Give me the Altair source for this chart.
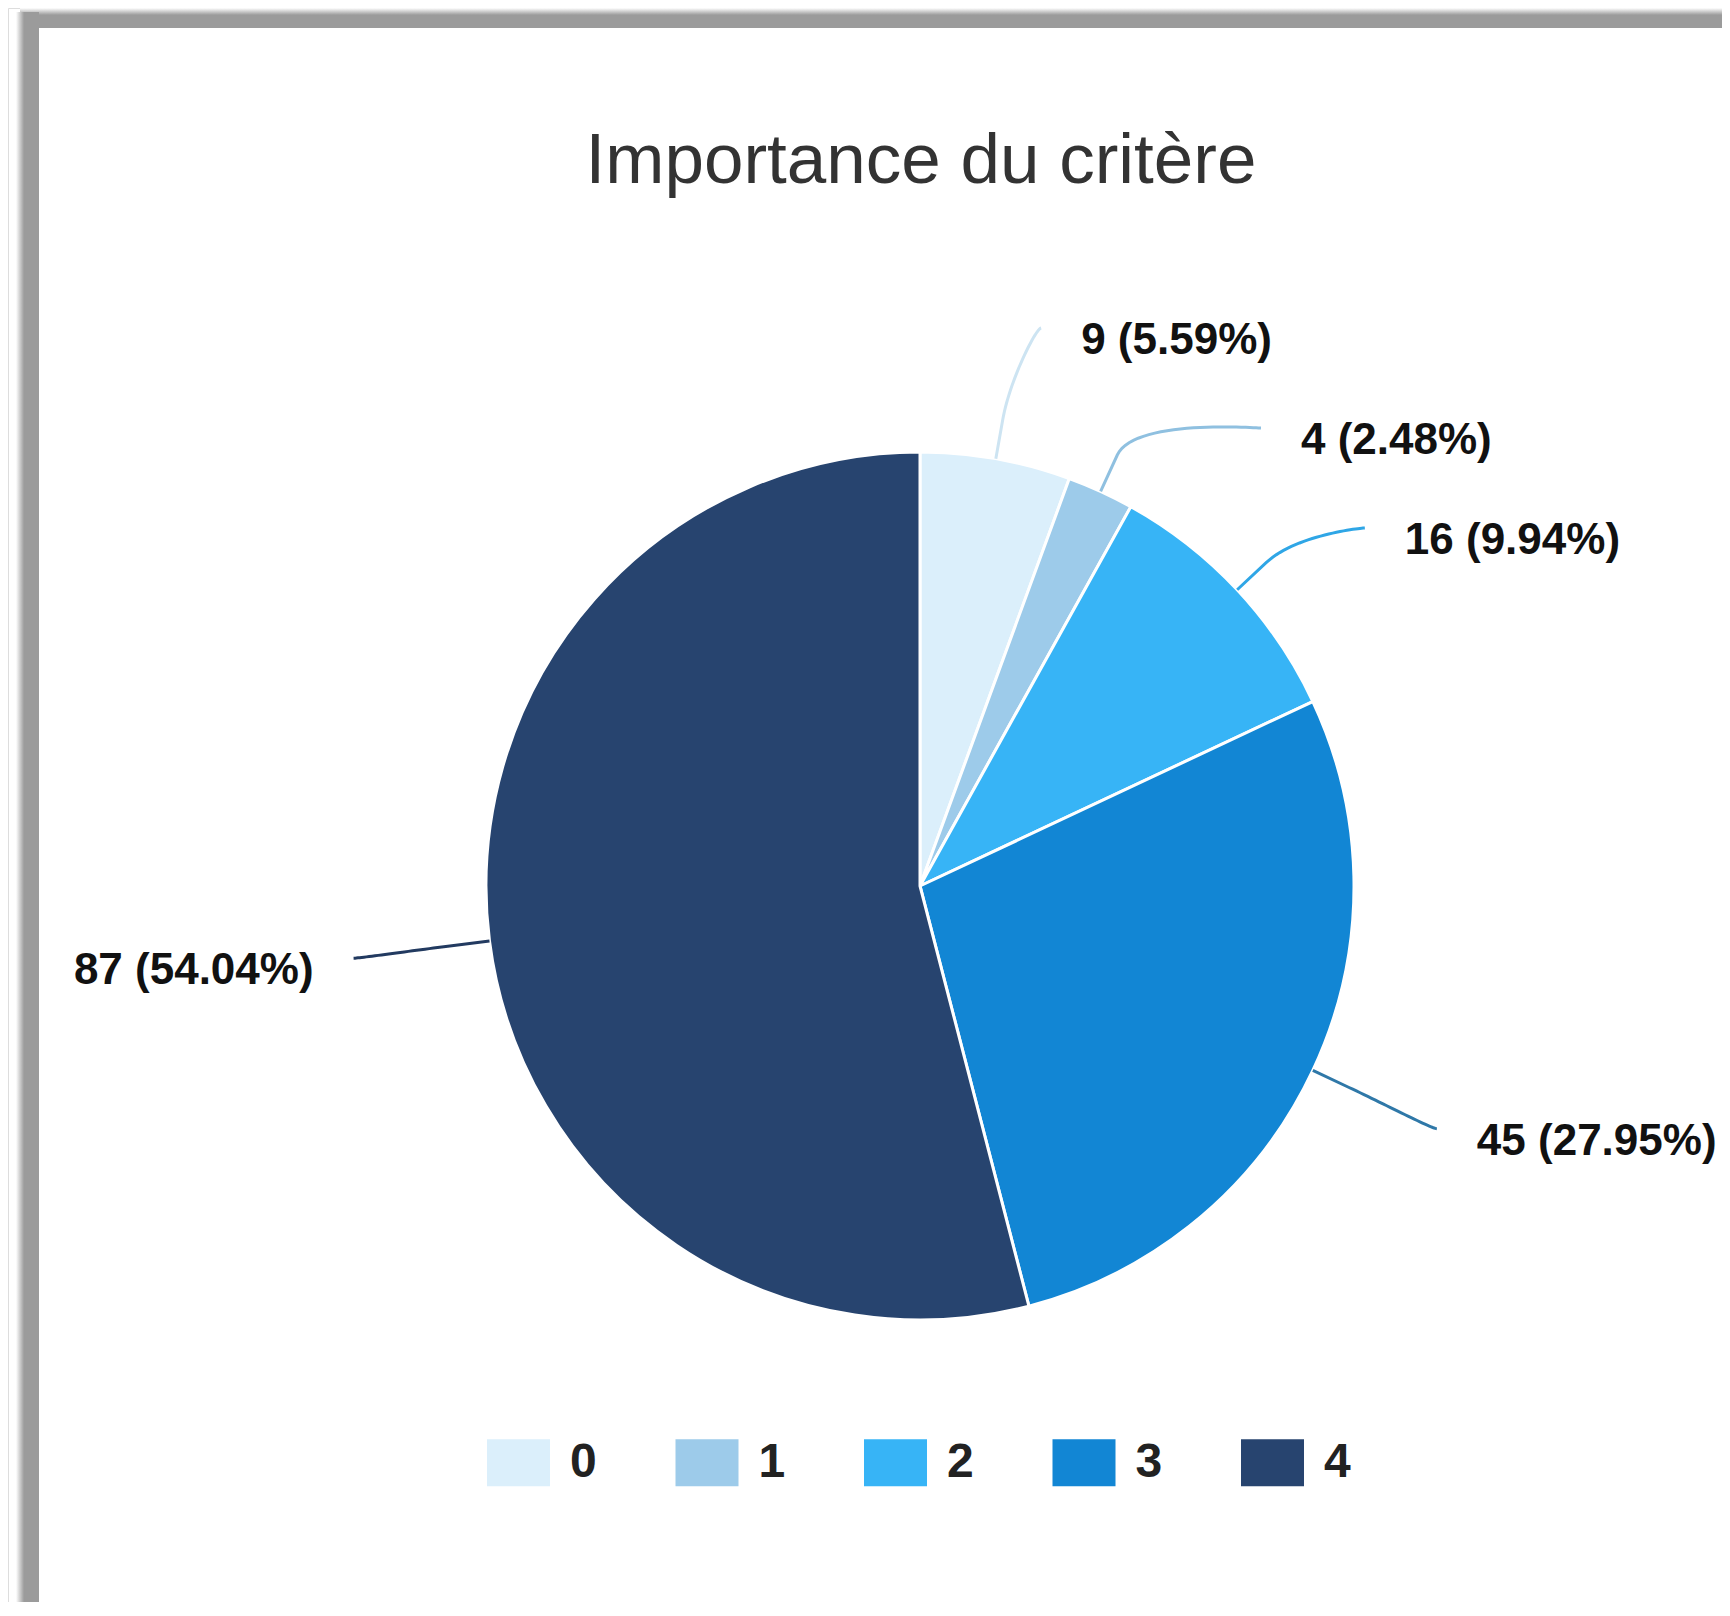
import math
import altair as alt
import pandas as pd

# ---------------- data ----------------
title_text = "Importance du critère"
categories = ["0", "1", "2", "3", "4"]
counts = [9, 4, 16, 45, 87]
colors = ["#dbeffb", "#9dcbea", "#37b4f6", "#1286d4", "#27446f"]
connector_colors = ["#cde4f2", "#8fc0e0", "#2fa6e6", "#2f78a8", "#223a60"]

# ---------------- layout (pixels) ----------------
W, H = 1714, 1594          # drawing area (page minus 8px margin, no scrollbars)
OFF = 8
CX, CY = 920 - OFF, 886 - OFF
R = 434                    # pie radius
LABEL_R = 571              # where connectors end
BREAK_R = R + 40
GAP = 40                   # connector end -> text
MIN_SPACING = 100          # vertical room per label
TOP_LIMIT = 328 - OFF      # labels are kept below this line
LABEL_DY = 13

total = sum(counts)
mids = []
acc = 0
for c in counts:
    mids.append((acc + c / 2) / total * 2 * math.pi)
    acc += c

# simple label anti-collision (push down), per side
ends = {}
for side in ("right", "left"):
    idx = [i for i, a in enumerate(mids) if (a < math.pi) == (side == "right")]
    nat = sorted(((CY - LABEL_R * math.cos(mids[i]), i) for i in idx))
    prev = None
    for y, i in nat:
        y = max(y, TOP_LIMIT)
        if prev is not None and y < prev + MIN_SPACING:
            y = prev + MIN_SPACING
        prev = y
        dy = max(-LABEL_R, min(LABEL_R, y - CY))
        dx = math.sqrt(LABEL_R ** 2 - dy ** 2)
        x = CX + dx if side == "right" else CX - dx
        ends[i] = (x, y, side)

label_rows, line_rows = [], []
for i, (cat, c) in enumerate(zip(categories, counts)):
    a = mids[i]
    lx, ly, side = ends[i]
    tx, ty = CX + R * math.sin(a), CY - R * math.cos(a)
    bx, by = CX + BREAK_R * math.sin(a), CY - BREAK_R * math.cos(a)
    c1x, c1y = lx + (-5 if side == "right" else 5), ly
    c2x, c2y = 2 * bx - tx, 2 * by - ty
    n = 30
    k = 0
    for s in range(n + 1):
        t = s / n
        u = 1 - t
        px = u**3 * lx + 3 * u * u * t * c1x + 3 * u * t * t * c2x + t**3 * bx
        py = u**3 * ly + 3 * u * u * t * c1y + 3 * u * t * t * c2y + t**3 * by
        line_rows.append({"cat": cat, "i": k, "x": px, "y": py, "lc": connector_colors[i]})
        k += 1
    line_rows.append({"cat": cat, "i": k, "x": tx, "y": ty, "lc": connector_colors[i]})
    pct = c / total * 100
    label_rows.append({
        "cat": cat,
        "text": f"{c} ({pct:.2f}%)",
        "x": lx + GAP if side == "right" else lx - GAP,
        "y": ly + LABEL_DY,
        "align": "left" if side == "right" else "right",
    })

pie_df = pd.DataFrame({"cat": categories, "count": counts, "order": list(range(len(counts)))})
lines_df = pd.DataFrame(line_rows)
labels_df = pd.DataFrame(label_rows)

xs = alt.Scale(domain=[0, W], range=[0, W], nice=False, zero=False)
ys = alt.Scale(domain=[0, H], range=[0, H], nice=False, zero=False)

# ---------------- frame ----------------
top_grad = alt.LinearGradient(
    gradient="linear",
    stops=[alt.GradientStop(color="#ffffff", offset=0),
           alt.GradientStop(color="#9b9b9b", offset=0.35),
           alt.GradientStop(color="#9b9b9b", offset=1)],
    x1=0, x2=0, y1=0, y2=1)
left_grad = alt.LinearGradient(
    gradient="linear",
    stops=[alt.GradientStop(color="#ffffff", offset=0),
           alt.GradientStop(color="#9b9b9b", offset=0.35),
           alt.GradientStop(color="#9b9b9b", offset=1)],
    x1=0, x2=1, y1=0, y2=0)

frame_top = alt.Chart(pie_df).mark_rect(fill=top_grad).encode(
    x=alt.value(12), x2=alt.value(W), y=alt.value(0), y2=alt.value(20))
frame_left = alt.Chart(pie_df).mark_rect(fill=left_grad).encode(
    x=alt.value(8), x2=alt.value(31), y=alt.value(4), y2=alt.value(H))

# ---------------- title ----------------
title = alt.Chart(pd.DataFrame({"t": [title_text]})).mark_text(
    font="Liberation Sans", fontSize=71, color="#333333", align="center",
    baseline="alphabetic").encode(
    text="t:N", x=alt.value(921 - OFF), y=alt.value(183 - OFF))

# ---------------- pie ----------------
pie = alt.Chart(pie_df).mark_arc(outerRadius=R, stroke="white", strokeWidth=3).encode(
    theta=alt.Theta("count:Q", stack=True),
    order=alt.Order("order:Q", sort="ascending"),
    color=alt.Color(
        "cat:N",
        scale=alt.Scale(domain=categories, range=colors),
        legend=alt.Legend(
            orient="none", legendX=479, legendY=1423, direction="horizontal",
            title=None, symbolType="M-1,-0.746H1V0.746H-1Z", symbolSize=3969,
            symbolStrokeWidth=0, symbolOpacity=1,
            labelFont="Liberation Sans", labelFontSize=48, labelFontWeight="bold",
            labelColor="#222222", labelOffset=20, columnPadding=78.5, padding=0),
    ),
    x=alt.value(CX), y=alt.value(CY),
)

connectors = alt.Chart(lines_df).mark_line(strokeWidth=3).encode(
    x=alt.X("x:Q", scale=xs, axis=None),
    y=alt.Y("y:Q", scale=ys, axis=None),
    detail="cat:N",
    order="i:Q",
    color=alt.Color("lc:N", scale=None),
)

labels_r = alt.Chart(labels_df).transform_filter("datum.align == 'left'").mark_text(
    font="Liberation Sans", fontSize=44, fontWeight="bold", color="#111111",
    align="left", baseline="middle").encode(
    x=alt.X("x:Q", scale=xs, axis=None),
    y=alt.Y("y:Q", scale=ys, axis=None),
    text="text:N")
labels_l = alt.Chart(labels_df).transform_filter("datum.align == 'right'").mark_text(
    font="Liberation Sans", fontSize=44, fontWeight="bold", color="#111111",
    align="right", baseline="middle").encode(
    x=alt.X("x:Q", scale=xs, axis=None),
    y=alt.Y("y:Q", scale=ys, axis=None),
    text="text:N")

chart = alt.layer(frame_top, frame_left, title, pie, connectors, labels_r, labels_l).properties(
    width=W, height=H, padding=0,
    autosize=alt.AutoSizeParams(type="none"),
).configure_view(stroke=None).configure(background="white")

chart.save("out.html", embed_options={"renderer": "svg", "actions": False})
